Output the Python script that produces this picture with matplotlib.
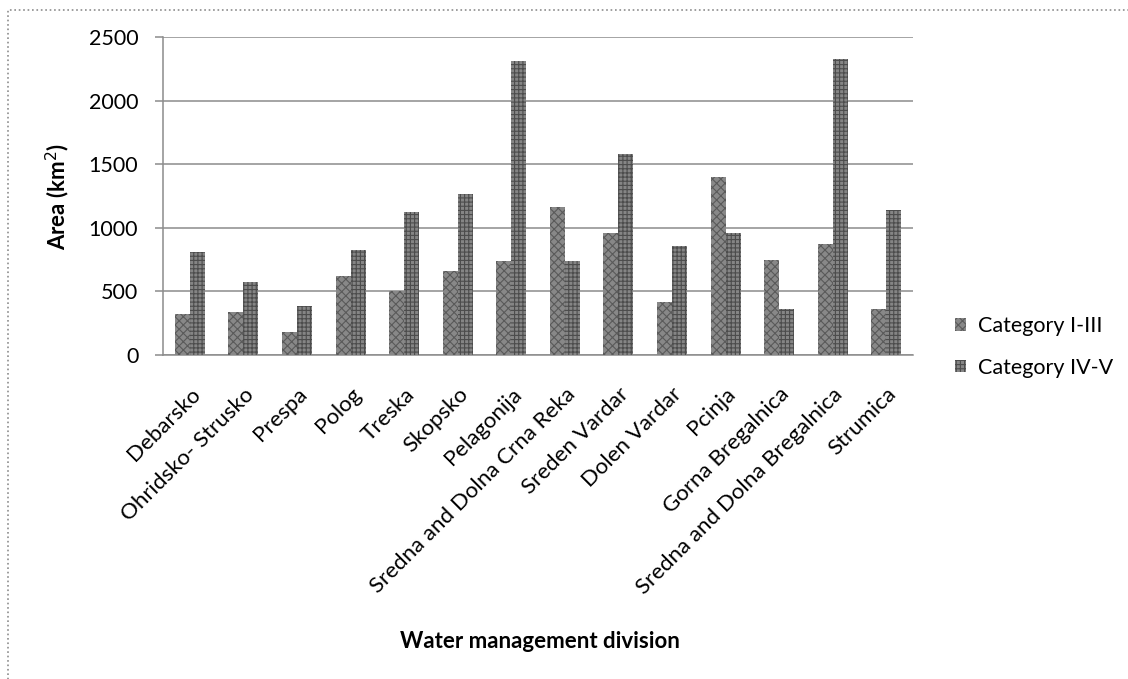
import numpy as np
import matplotlib.pyplot as plt
from matplotlib.patches import Rectangle

# Area by water management division (km2)
divisions = ['Debarsko', 'Ohridsko- Strusko', 'Prespa', 'Polog', 'Treska', 'Skopsko',
             'Pelagonija', 'Sredna and Dolna Crna Reka', 'Sreden Vardar', 'Dolen Vardar',
             'Pcinja', 'Gorna Bregalnica', 'Sredna and Dolna Bregalnica', 'Strumica']
cat_1_3 = [322, 336, 183, 619, 503, 663, 739, 1166, 957, 414, 1399, 749, 870, 364]
cat_4_5 = [807, 574, 383, 823, 1122, 1268, 2314, 739, 1580, 857, 957, 364, 2329, 1140]
series_labels = ['Category I-III', 'Category IV-V']
y_ticks = [0, 500, 1000, 1500, 2000, 2500]

plt.rcParams.update({
    'font.family': ['Lato', 'DejaVu Sans'],
    'font.size': 15,
    'hatch.linewidth': 0.8,
})

W, H = 1128, 679
fig = plt.figure(figsize=(W / 100, H / 100), dpi=100, facecolor='white')
ax = fig.add_axes([163 / W, 1 - 355 / H, (913 - 163) / W, (355 - 37) / H])

x = np.arange(len(divisions))
bw = 0.28
ax.bar(x - bw / 2, cat_1_3, bw, color='#888888', edgecolor='#5a5a5a',
       hatch='xxxx', lw=0, label=series_labels[0], zorder=3)
ax.bar(x + bw / 2, cat_4_5, bw, color='#858585', edgecolor='#4c4c4c',
       hatch='++++', lw=0, label=series_labels[1], zorder=3)

ax.set_xlim(-0.5, len(divisions) - 0.5)
ax.set_ylim(0, 2500)
ax.set_yticks(y_ticks)
ax.yaxis.grid(True, color='#8c8c8c', lw=1.1, zorder=0)
ax.set_axisbelow(True)
for s in ['top', 'right']:
    ax.spines[s].set_visible(False)
for s in ['left', 'bottom']:
    ax.spines[s].set_color('#8c8c8c')
    ax.spines[s].set_linewidth(1.1)
ax.tick_params(axis='y', length=5.8, width=1.1, color='#8c8c8c', pad=12, labelsize=15.5)
ax.tick_params(axis='x', length=0, pad=21, labelsize=16)
ax.set_xticks(x)
ax.set_xticklabels(divisions, rotation=45, ha='right', rotation_mode='anchor')

ax.set_ylabel('Area (km$^2$)', fontsize=16, fontweight='bold', labelpad=12)
fig.text(540 / W, 1 - 642 / H, 'Water management division', fontsize=16,
         fontweight='bold', ha='center', va='center')

ax.legend(loc='center left', bbox_to_anchor=(944 / W, 1 - 347 / H),
          bbox_transform=fig.transFigure, frameon=False, fontsize=15.5,
          handlelength=0.5, handleheight=0.5, handletextpad=0.6, labelspacing=1.0,
          borderpad=0)

# chart area border
fig.patches.append(Rectangle((8 / W, -0.05), 1.1, 1 - 10 / H + 0.05, transform=fig.transFigure,
                             fill=False, ls=':', lw=1.2, ec='#8c8c8c'))

fig.savefig('out.png', dpi=100, facecolor='white')
